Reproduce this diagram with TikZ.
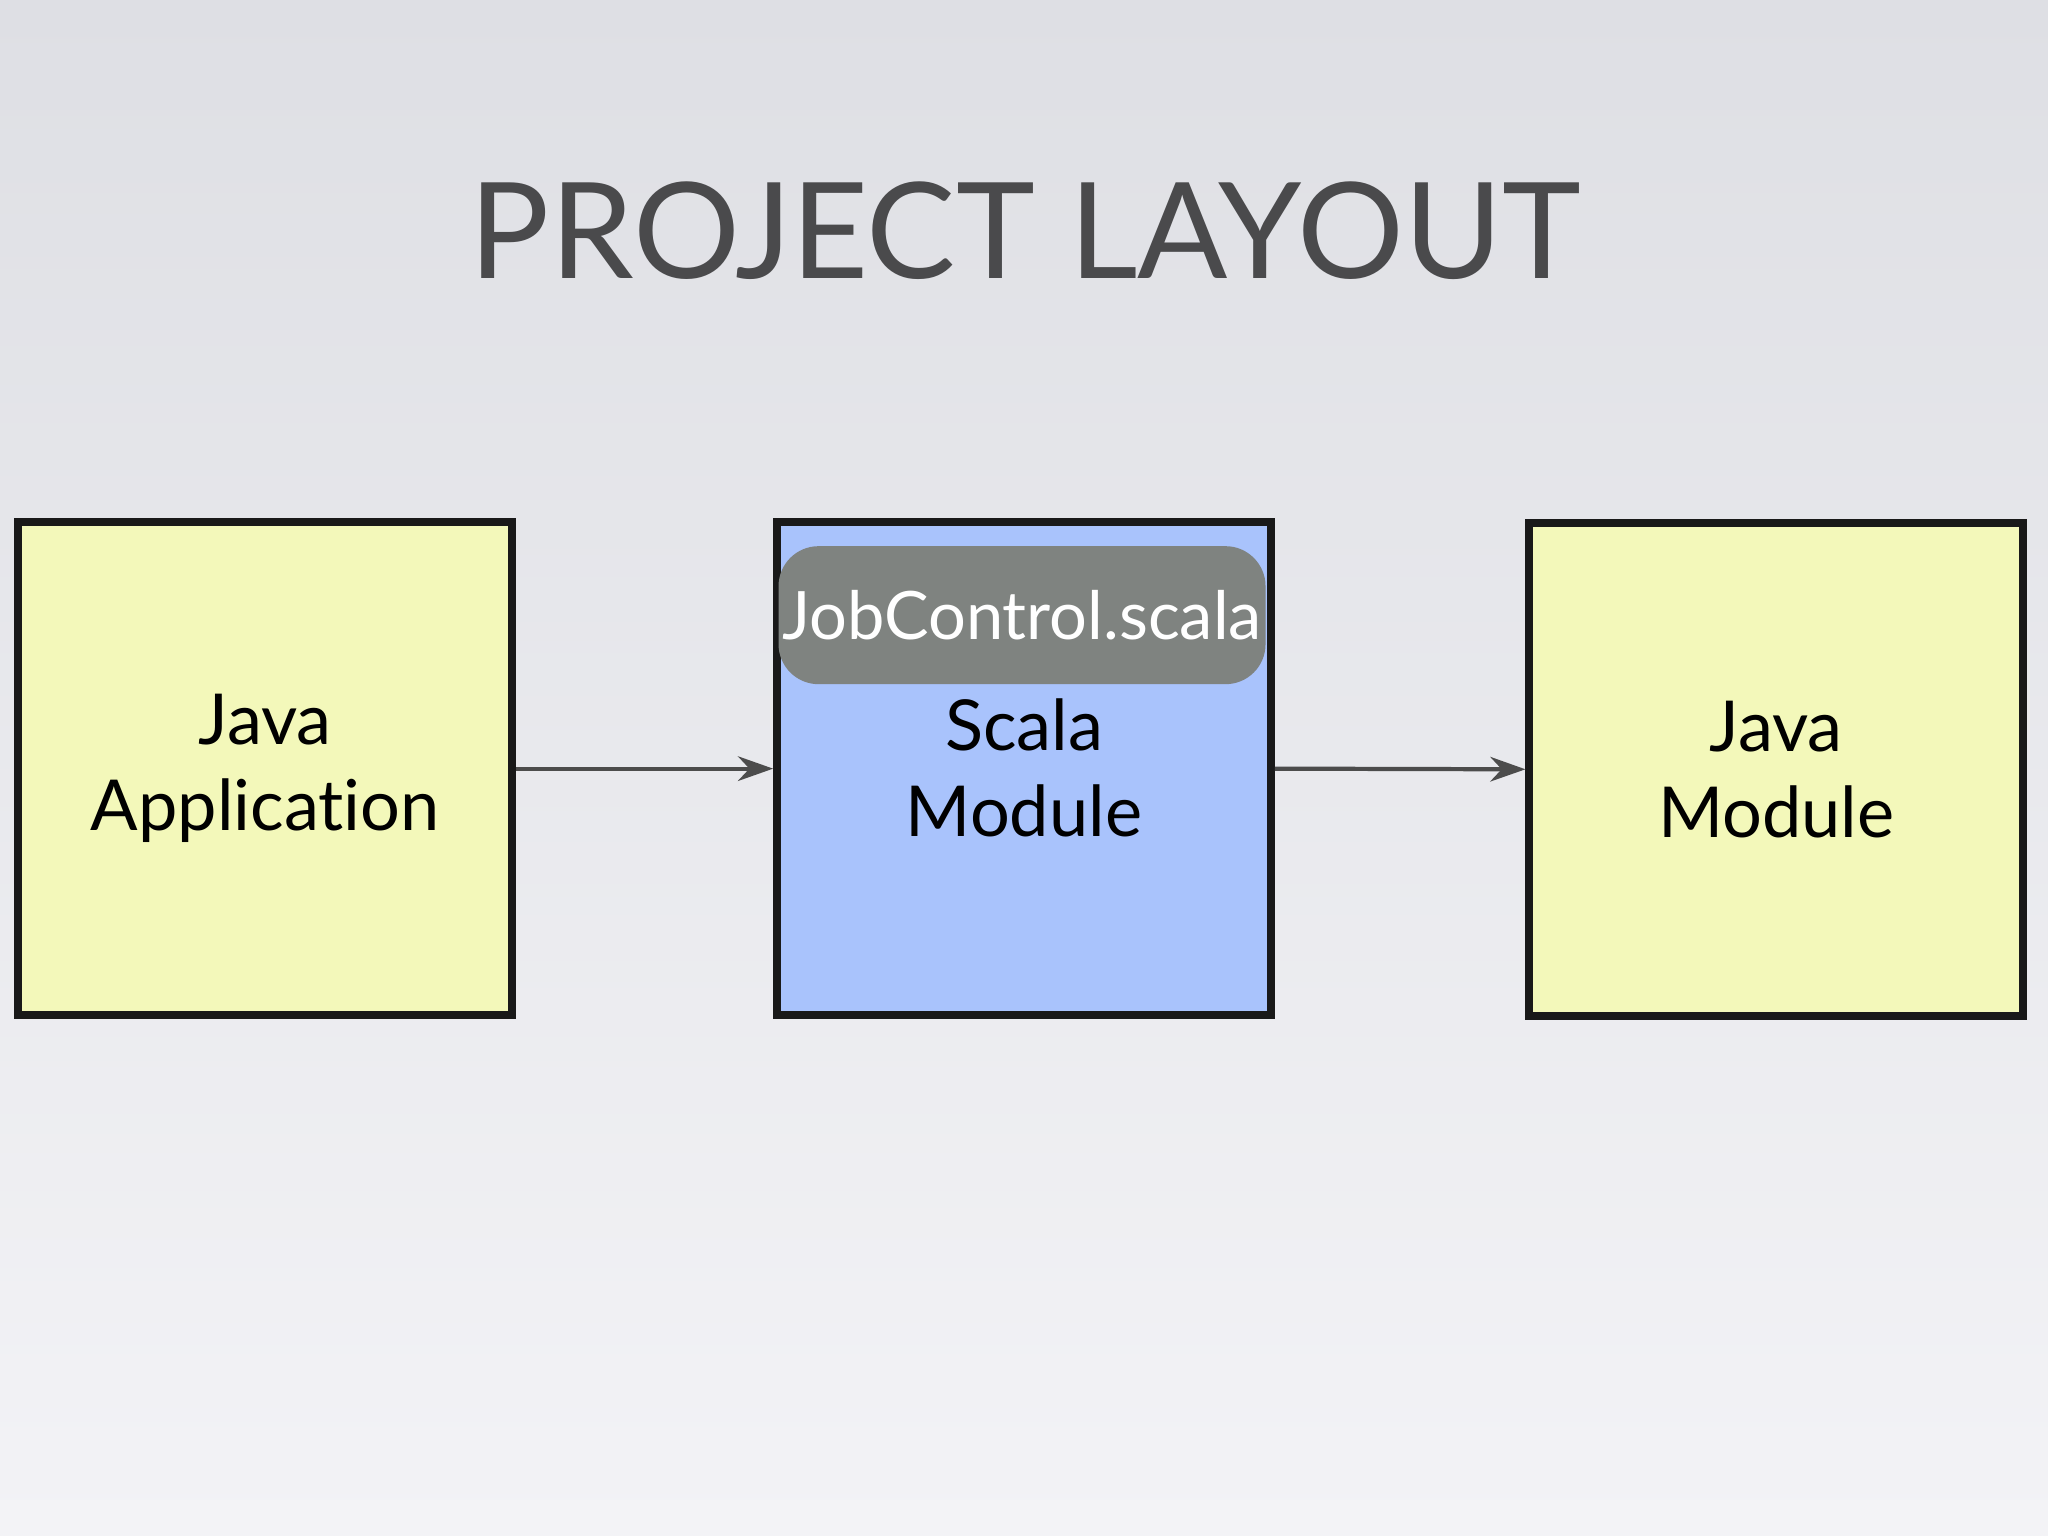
\documentclass[tikz,border=0pt]{standalone}
\usepackage{fontspec}
\setmainfont{Lato}[Ligatures={NoCommon}]
\usetikzlibrary{arrows.meta}
\definecolor{bgtop}{HTML}{DEDFE4}
\definecolor{bgbot}{HTML}{F3F3F6}
\definecolor{yel}{HTML}{F3F8BA}
\definecolor{blu}{HTML}{A9C3FC}
\definecolor{gry}{HTML}{7F8380}
\definecolor{ttl}{HTML}{4A4A4C}
\tikzset{
  box/.style={draw=black!90, line width=2.2pt, minimum width=4.94cm, minimum height=4.93cm, inner sep=0pt, font=\fontsize{20}{24.5}\selectfont, align=center},
  conn/.style={draw=black!70, line width=1.2pt, -{Stealth[length=10pt,width=7pt]}}
}
\begin{document}
\begin{tikzpicture}[x=0.01306cm,y=-0.01306cm]
\shade[top color=bgtop, bottom color=bgbot] (0,0) rectangle (1568,1176);
\useasboundingbox (0,0) rectangle (1568,1176);
\node[text=ttl, font=\fontsize{38}{44}\selectfont] (title) at (785,177) {PROJECT LAYOUT};
\node[box, fill=yel] (app) at (203,588.5) {Java\\Application};
\node[box, fill=blu] (scala) at (784,588.5) {};
\node[font=\fontsize{20}{24.5}\selectfont, align=center] (scalalbl) at (784,588) {Scala\\Module};
\node[fill=gry, rounded corners=0.4cm, minimum width=4.87cm, minimum height=1.38cm, text=white, font=\fontsize{19}{24}\selectfont, inner sep=0pt] (job) at (782.5,471) {JobControl.scala};
\node[box, fill=yel] (jm) at (1360,589) {Java\\Module};
\draw[conn] (app.east) -- (scala.west);
\draw[conn] (scala.east) -- (jm.west);
\end{tikzpicture}
\end{document}
